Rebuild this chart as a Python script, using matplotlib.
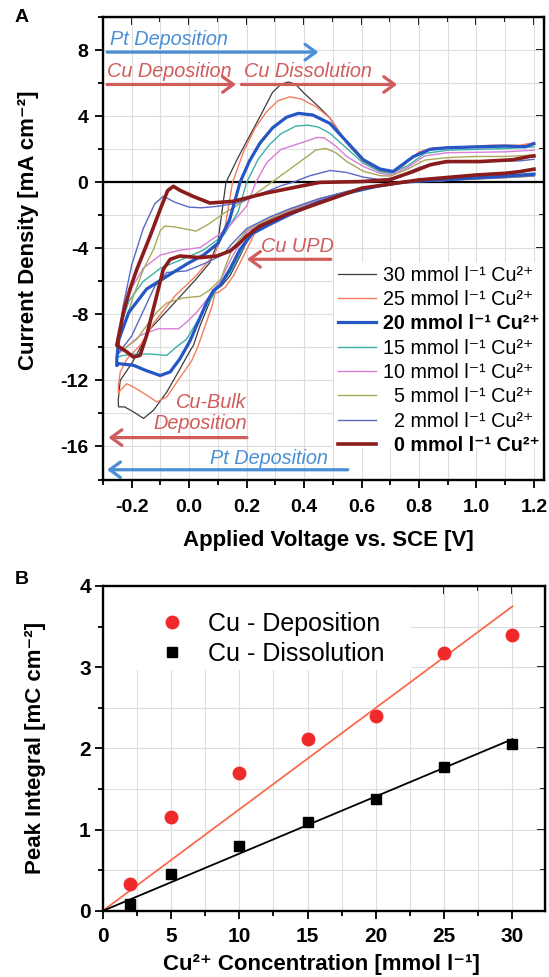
import matplotlib
matplotlib.use('Agg')
import matplotlib.pyplot as plt
from matplotlib.patches import Rectangle
from matplotlib.ticker import MultipleLocator

plt.rcParams['font.family'] = ['Liberation Sans', 'DejaVu Sans']

# ---------------- Panel A data (cyclic voltammograms, V vs SCE / mA cm-2) ----------------
V30 = [1.20, 1.10, 1.00, 0.90, 0.80, 0.74, 0.65, 0.55, 0.45, 0.35, 0.28, 0.22, 0.177, 0.142, 0.113, 0.09,
       0.073, 0.038, 0.015, 0.003, -0.032, -0.078, -0.124, -0.159, -0.194, -0.225, -0.246,
       -0.247, -0.24, -0.197, -0.135, -0.05, 0.024, 0.072, 0.10, 0.128, 0.17, 0.21, 0.25, 0.29, 0.32,
       0.345, 0.37, 0.40, 0.45, 0.49, 0.548, 0.606, 0.664, 0.70, 0.74, 0.80, 0.85, 0.95, 1.05, 1.15, 1.20]
J30 = [0.45, 0.35, 0.25, 0.15, 0.08, 0.0, -0.2, -0.55, -1.05, -1.7, -2.25, -2.85, -4.46, -5.66, -6.26, -6.46,
       -7.17, -8.67, -9.87, -10.2, -11.3, -12.7, -13.8, -14.3, -13.9, -13.6, -13.6,
       -13.2, -12.0, -10.88, -8.87, -7.27, -5.86, -4.86, -3.6, 0.0, 1.5, 2.8, 4.1, 5.45, 5.95,
       6.08, 5.95, 5.4, 4.6, 3.9, 2.4, 1.27, 0.7, 0.6, 0.95, 1.8, 2.05, 2.1, 2.2, 2.2, 2.3]

V25 = [1.20, 1.10, 1.00, 0.90, 0.80, 0.74, 0.65, 0.55, 0.45, 0.35, 0.28, 0.235, 0.189, 0.154, 0.125, 0.102,
       0.09, 0.08, 0.056, 0.032, 0.009, -0.043, -0.078, -0.113, -0.147, -0.194, -0.217, -0.24, -0.246,
       -0.247, -0.24, -0.217, -0.171, -0.122, -0.049, 0.024, 0.09, 0.125, 0.151, 0.19, 0.23, 0.27, 0.31,
       0.35, 0.39, 0.44, 0.49, 0.548, 0.606, 0.664, 0.70, 0.74, 0.80, 0.85, 0.95, 1.05, 1.15, 1.20]
J25 = [0.40, 0.30, 0.22, 0.13, 0.06, 0.0, -0.22, -0.6, -1.1, -1.75, -2.3, -2.85, -4.46, -5.66, -6.36, -6.66,
       -6.7, -7.47, -8.67, -9.87, -10.8, -12.1, -13.0, -13.3, -12.9, -12.4, -12.2, -12.6, -12.8,
       -12.4, -11.5, -10.7, -9.88, -8.47, -6.87, -5.66, -4.3, -2.7, 0.0, 1.9, 3.3, 4.3, 4.95,
       5.18, 5.05, 4.6, 3.9, 2.4, 1.27, 0.72, 0.62, 0.95, 1.85, 2.1, 2.15, 2.25, 2.25, 2.4]

V20 = [1.20, 1.10, 1.00, 0.90, 0.80, 0.74, 0.65, 0.55, 0.45, 0.35, 0.28, 0.22, 0.177, 0.142, 0.107, 0.084,
       0.061, 0.026, 0.003, -0.032, -0.066, -0.101, -0.15, -0.194, -0.246, -0.252,
       -0.252, -0.245, -0.21, -0.148, -0.075, 0.0, 0.05, 0.10, 0.14, 0.177, 0.21, 0.246, 0.29, 0.339,
       0.38, 0.43, 0.49, 0.548, 0.606, 0.664, 0.71, 0.78, 0.838, 0.90, 1.00, 1.10, 1.17, 1.20]
J20 = [0.5, 0.38, 0.28, 0.17, 0.08, 0.0, -0.25, -0.65, -1.2, -1.95, -2.55, -3.1, -4.06, -5.26, -6.26, -6.56,
       -7.27, -8.67, -9.6, -10.68, -11.48, -11.7, -11.4, -11.08, -10.98, -11.1,
       -10.7, -9.5, -7.87, -6.46, -5.66, -4.86, -4.4, -3.7, -2.3, 0.0, 1.3, 2.37, 3.3, 3.95,
       4.18, 4.08, 3.57, 2.47, 1.37, 0.81, 0.66, 1.56, 2.0, 2.1, 2.15, 2.2, 2.15, 2.35]

V15 = [1.20, 1.10, 1.00, 0.90, 0.80, 0.74, 0.65, 0.55, 0.45, 0.35, 0.28, 0.22, 0.18, 0.145, 0.11, 0.096,
       0.061, 0.026, -0.009, -0.043, -0.078, -0.136, -0.194, -0.235, -0.248,
       -0.25, -0.24, -0.21, -0.16, -0.10, -0.03, 0.05, 0.12, 0.17, 0.20, 0.24, 0.28, 0.32, 0.37, 0.41,
       0.45, 0.49, 0.548, 0.606, 0.664, 0.70, 0.76, 0.82, 0.90, 1.00, 1.10, 1.20]
J15 = [0.42, 0.32, 0.24, 0.15, 0.07, 0.0, -0.22, -0.6, -1.1, -1.8, -2.35, -2.95, -4.2, -5.4, -6.2, -6.46,
       -7.47, -8.47, -9.5, -9.95, -10.48, -10.4, -10.4, -10.5, -10.6,
       -10.3, -8.8, -7.2, -6.0, -5.2, -4.7, -4.1, -3.2, -1.8, 0.0, 1.4, 2.3, 2.95, 3.4, 3.47,
       3.35, 2.97, 2.07, 1.16, 0.65, 0.55, 1.0, 1.75, 1.95, 2.0, 2.05, 2.15]

V10 = [1.20, 1.10, 1.00, 0.90, 0.80, 0.74, 0.65, 0.55, 0.45, 0.35, 0.28, 0.20, 0.15, 0.11, 0.072, 0.026,
       -0.009, -0.037, -0.11, -0.171, -0.22, -0.248,
       -0.25, -0.235, -0.20, -0.16, -0.10, -0.03, 0.038, 0.13, 0.20, 0.232, 0.27, 0.32, 0.386, 0.444,
       0.47, 0.51, 0.548, 0.606, 0.664, 0.70, 0.76, 0.82, 0.90, 1.00, 1.10, 1.20]
J10 = [0.40, 0.30, 0.22, 0.13, 0.06, 0.0, -0.2, -0.58, -1.05, -1.7, -2.25, -3.0, -4.5, -5.9, -6.87, -7.87,
       -8.47, -8.87, -8.87, -9.28, -10.0, -10.4,
       -10.2, -8.3, -6.4, -5.2, -4.4, -4.1, -3.95, -2.85, -1.44, 0.0, 1.2, 2.0, 2.37, 2.72,
       2.7, 2.2, 1.57, 0.97, 0.55, 0.45, 0.9, 1.6, 1.8, 1.82, 1.85, 1.95]

V5 = [1.20, 1.10, 1.00, 0.90, 0.80, 0.74, 0.65, 0.55, 0.45, 0.35, 0.28, 0.20, 0.15, 0.11, 0.073, 0.038,
      -0.02, -0.078, -0.113, -0.148, -0.182, -0.22, -0.248,
      -0.25, -0.229, -0.194, -0.159, -0.124, -0.10, -0.085, -0.05, 0.024, 0.07, 0.121, 0.218, 0.29,
      0.377, 0.44, 0.475, 0.51, 0.548, 0.606, 0.664, 0.70, 0.76, 0.82, 0.90, 1.00, 1.10, 1.20]
J5 = [0.38, 0.28, 0.2, 0.12, 0.05, 0.0, -0.2, -0.55, -1.0, -1.65, -2.2, -2.9, -4.0, -5.86, -6.5, -6.9,
      -7.0, -7.3, -7.87, -8.67, -9.5, -10.0, -10.2,
      -10.0, -8.87, -6.86, -5.26, -4.06, -2.9, -2.65, -2.7, -2.95, -2.5, -1.87, -0.86, 0.04,
      1.14, 1.95, 2.06, 1.8, 1.27, 0.67, 0.41, 0.38, 0.8, 1.35, 1.5, 1.57, 1.57, 1.65]

V2 = [1.20, 1.10, 1.00, 0.90, 0.80, 0.74, 0.65, 0.55, 0.45, 0.35, 0.28, 0.20, 0.15, 0.119, 0.061, -0.009,
      -0.078, -0.12, -0.16, -0.20, -0.248,
      -0.25, -0.23, -0.20, -0.16, -0.12, -0.09, -0.05, 0.0, 0.043, 0.10, 0.17, 0.25, 0.32, 0.36, 0.42,
      0.49, 0.548, 0.606, 0.664, 0.72, 0.80, 0.85, 0.95, 1.05, 1.15, 1.20]
J2 = [0.40, 0.30, 0.22, 0.13, 0.06, 0.0, -0.2, -0.55, -1.0, -1.6, -2.1, -2.8, -3.7, -4.36, -4.86, -5.36,
      -5.46, -6.3, -7.8, -9.3, -10.4,
      -10.2, -7.5, -5.0, -2.8, -1.3, -0.84, -1.2, -1.5, -1.54, -1.45, -1.24, -0.7, -0.2, 0.0, 0.4,
      0.72, 0.6, 0.32, 0.16, 0.3, 0.9, 1.15, 1.25, 1.3, 1.3, 1.4]

V0 = [1.20, 1.15, 1.10, 1.00, 0.90, 0.80, 0.74, 0.60, 0.455, 0.339, 0.246, 0.20, 0.171, 0.142, 0.096, 0.038,
      -0.032, -0.066, -0.09, -0.113, -0.148, -0.171, -0.194, -0.217, -0.252,
      -0.229, -0.206, -0.182, -0.159, -0.136, -0.10, -0.075, -0.055, -0.03, 0.014, 0.072, 0.153, 0.27,
      0.385, 0.455, 0.60, 0.698, 0.78, 0.838, 0.895, 1.011, 1.127, 1.185, 1.20]
J0 = [0.8, 0.65, 0.55, 0.45, 0.3, 0.15, 0.0, -0.35, -1.24, -1.95, -2.65, -3.25, -3.75, -4.16, -4.46, -4.56,
      -4.46, -4.66, -5.26, -6.86, -9.27, -10.48, -10.58, -10.27, -9.87,
      -7.87, -6.46, -5.26, -4.26, -3.25, -1.6, -0.5, -0.24, -0.5, -0.85, -1.25, -1.15, -0.64,
      -0.24, 0.0, 0.05, 0.16, 0.66, 1.06, 1.26, 1.26, 1.37, 1.57, 1.6]

cv_labels = ['30 mmol l\u207b\u00b9 Cu\u00b2\u207a', '25 mmol l\u207b\u00b9 Cu\u00b2\u207a',
             '20 mmol l\u207b\u00b9 Cu\u00b2\u207a', '15 mmol l\u207b\u00b9 Cu\u00b2\u207a',
             '10 mmol l\u207b\u00b9 Cu\u00b2\u207a', '  5 mmol l\u207b\u00b9 Cu\u00b2\u207a',
             '  2 mmol l\u207b\u00b9 Cu\u00b2\u207a', '  0 mmol l\u207b\u00b9 Cu\u00b2\u207a']
cv_V = [V30, V25, V20, V15, V10, V5, V2, V0]
cv_J = [J30, J25, J20, J15, J10, J5, J2, J0]
cv_colors = ['#3c3c3c', '#f67c5e', '#2456c4', '#3cb0a6', '#d77ed8', '#a8a85a', '#5a68c6', '#8b1c1c']
cv_lw = [0.9, 1.0, 2.3, 1.0, 1.0, 1.0, 1.0, 2.6]
cv_bold = [False, False, True, False, False, False, False, True]

A_xticks = [-0.2, 0.0, 0.2, 0.4, 0.6, 0.8, 1.0, 1.2]
A_xticklabels = ['-0.2', '0.0', '0.2', '0.4', '0.6', '0.8', '1.0', '1.2']
A_yticks = [-16, -12, -8, -4, 0, 4, 8]
A_yticklabels = ['-16', '-12', '-8', '-4', '0', '4', '8']

# ---------------- Panel B data ----------------
conc = [2, 5, 10, 15, 20, 25, 30]
q_dep = [0.33, 1.16, 1.70, 2.12, 2.40, 3.18, 3.40]
q_dis = [0.09, 0.455, 0.80, 1.10, 1.38, 1.77, 2.06]
B_xticks = [0, 5, 10, 15, 20, 25, 30]
B_xticklabels = ['0', '5', '10', '15', '20', '25', '30']
B_yticks = [0, 1, 2, 3, 4]
B_yticklabels = ['0', '1', '2', '3', '4']

fig = plt.figure(figsize=(5.49, 9.77), dpi=100)
axA = fig.add_axes([0.1876, 0.5092, 0.8033, 0.4731])
axB = fig.add_axes([0.1869, 0.0676, 0.805, 0.3327])

GRID = '#dddddd'


def style(ax, xt, xl, xminor, yt, yl, yminor, size, xpad, ypad):
    ax.set_xticks(xt)
    ax.set_xticklabels(xl, fontweight='bold', fontsize=size)
    ax.set_yticks(yt)
    ax.set_yticklabels(yl, fontweight='bold', fontsize=size)
    ax.xaxis.set_minor_locator(MultipleLocator(xminor))
    ax.yaxis.set_minor_locator(MultipleLocator(yminor))
    ax.tick_params(which='both', direction='out', top=False, right=False, width=1.3)
    ax.tick_params(axis='x', which='both', pad=xpad)
    ax.tick_params(axis='y', which='both', pad=ypad)
    ax.tick_params(which='major', length=6)
    ax.tick_params(which='minor', length=3.5)
    for s in ax.spines.values():
        s.set_linewidth(1.7)
    ax.grid(True, which='both', color=GRID, lw=0.8)
    ax.set_axisbelow(True)
    sx = ax.secondary_xaxis('top')
    sx.set_xticks(xt)
    sx.xaxis.set_minor_locator(MultipleLocator(xminor))
    sx.tick_params(which='both', direction='in', labeltop=False, width=1.3)
    sx.tick_params(which='major', length=6)
    sx.tick_params(which='minor', length=3.5)
    sy = ax.secondary_yaxis('right')
    sy.set_yticks(yt)
    sy.yaxis.set_minor_locator(MultipleLocator(yminor))
    sy.tick_params(which='both', direction='in', labelright=False, width=1.3)
    sy.tick_params(which='major', length=6)
    sy.tick_params(which='minor', length=3.5)


# ---------------- Panel A ----------------
axA.set_xlim(-0.30, 1.235)
axA.set_ylim(-18, 10)
style(axA, A_xticks, A_xticklabels, 0.1, A_yticks, A_yticklabels, 2, 14, 8.3, 4.5)
axA.axhline(0, color='black', lw=1.6, zorder=1.5)
axA.add_patch(Rectangle((0.505, -16.1), 0.75, 11.3, facecolor='white', edgecolor='none', zorder=1))

order = [0, 1, 3, 4, 5, 6, 2, 7]
handles = [None] * 8
for i in order:
    ln, = axA.plot(cv_V[i], cv_J[i], color=cv_colors[i], lw=cv_lw[i], zorder=2 + (1 if cv_lw[i] > 2 else 0))
    handles[i] = ln

legA = axA.legend(handles, cv_labels, loc='upper left', bbox_to_anchor=(0.533, 0.4625), frameon=False,
                  fontsize=14.2, handlelength=1.9, handletextpad=0.36, labelspacing=0.27, borderpad=0,
                  borderaxespad=0)
for t, b in zip(legA.get_texts(), cv_bold):
    if b:
        t.set_fontweight('bold')

axA.set_xlabel('Applied Voltage vs. SCE [V]', fontsize=16, fontweight='bold')
axA.xaxis.set_label_coords(0.512, -0.109)
axA.set_ylabel('Current Density [mA cm\u207b\u00b2]', fontsize=16, fontweight='bold')
axA.yaxis.set_label_coords(-0.145, 0.54)

BLUE = '#4a8fd6'
RED = '#d05c5c'


def arrow(ax, x0, x1, y, c):
    ax.annotate('', xy=(x1, y), xytext=(x0, y),
                arrowprops=dict(arrowstyle='->,head_length=0.55,head_width=0.4', color=c, lw=2.3,
                                shrinkA=0, shrinkB=0, mutation_scale=14), annotation_clip=False)


tkw = dict(fontsize=14.3, style='italic', va='center')
axA.text(-0.275, 8.64, 'Pt Deposition', color=BLUE, **tkw)
arrow(axA, -0.286, 0.45, 7.89, BLUE)
axA.text(-0.286, 6.69, 'Cu Deposition', color=RED, **tkw)
arrow(axA, -0.286, 0.163, 5.93, RED)
axA.text(0.19, 6.69, 'Cu Dissolution', color=RED, **tkw)
arrow(axA, 0.182, 0.724, 5.93, RED)
axA.text(0.25, -3.86, 'Cu UPD', color=RED, **tkw)
arrow(axA, 0.493, 0.201, -4.66, RED)
axA.text(0.201, -13.97, 'Cu-Bulk\nDeposition', color=RED, ha='right', multialignment='right',
         linespacing=1.15, fontsize=14.3, style='italic', va='center')
arrow(axA, 0.201, -0.281, -15.46, RED)
axA.text(0.072, -16.7, 'Pt Deposition', color=BLUE, **tkw)
arrow(axA, 0.552, -0.286, -17.41, BLUE)

# ---------------- Panel B ----------------
axB.set_xlim(0, 32.35)
axB.set_ylim(0, 4)
style(axB, B_xticks, B_xticklabels, 2.5, B_yticks, B_yticklabels, 0.5, 15, 5.5, 2.5)
axB.add_patch(Rectangle((0, 2.97), 22.6, 1.1, facecolor='white', edgecolor='none', zorder=1))

sxx = sum(x * x for x in conc)
k_dep = sum(x * y for x, y in zip(conc, q_dep)) / sxx
k_dis = sum(x * y for x, y in zip(conc, q_dis)) / sxx
xfit = [0, conc[-1]]
axB.plot(xfit, [k_dep * x for x in xfit], color='#fa6a4c', lw=1.3, zorder=2)
axB.plot(xfit, [k_dis * x for x in xfit], color='black', lw=1.3, zorder=2)
h1, = axB.plot(conc, q_dep, 'o', color='#f02a2a', ms=9, zorder=3, clip_on=False)
h2, = axB.plot(conc, q_dis, 's', color='black', ms=7.5, zorder=3, clip_on=False)
axB.legend([h1, h2], ['Cu - Deposition', 'Cu - Dissolution'], loc='upper left',
           bbox_to_anchor=(0.116, 0.919), frameon=False, fontsize=18, handlelength=1.44,
           handletextpad=0.72, labelspacing=0.23, borderpad=0, borderaxespad=0, numpoints=1)
axB.set_xlabel('Cu\u00b2\u207a Concentration [mmol l\u207b\u00b9]', fontsize=16, fontweight='bold')
axB.xaxis.set_label_coords(0.496, -0.133)
axB.set_ylabel('Peak Integral [mC cm\u207b\u00b2]', fontsize=16, fontweight='bold')
axB.yaxis.set_label_coords(-0.129, 0.5)

fig.text(0.027, 0.982, 'A', fontsize=14, fontweight='bold', va='center', ha='left')
fig.text(0.027, 0.407, 'B', fontsize=14, fontweight='bold', va='center', ha='left')

fig.savefig('out.png', dpi=100)
